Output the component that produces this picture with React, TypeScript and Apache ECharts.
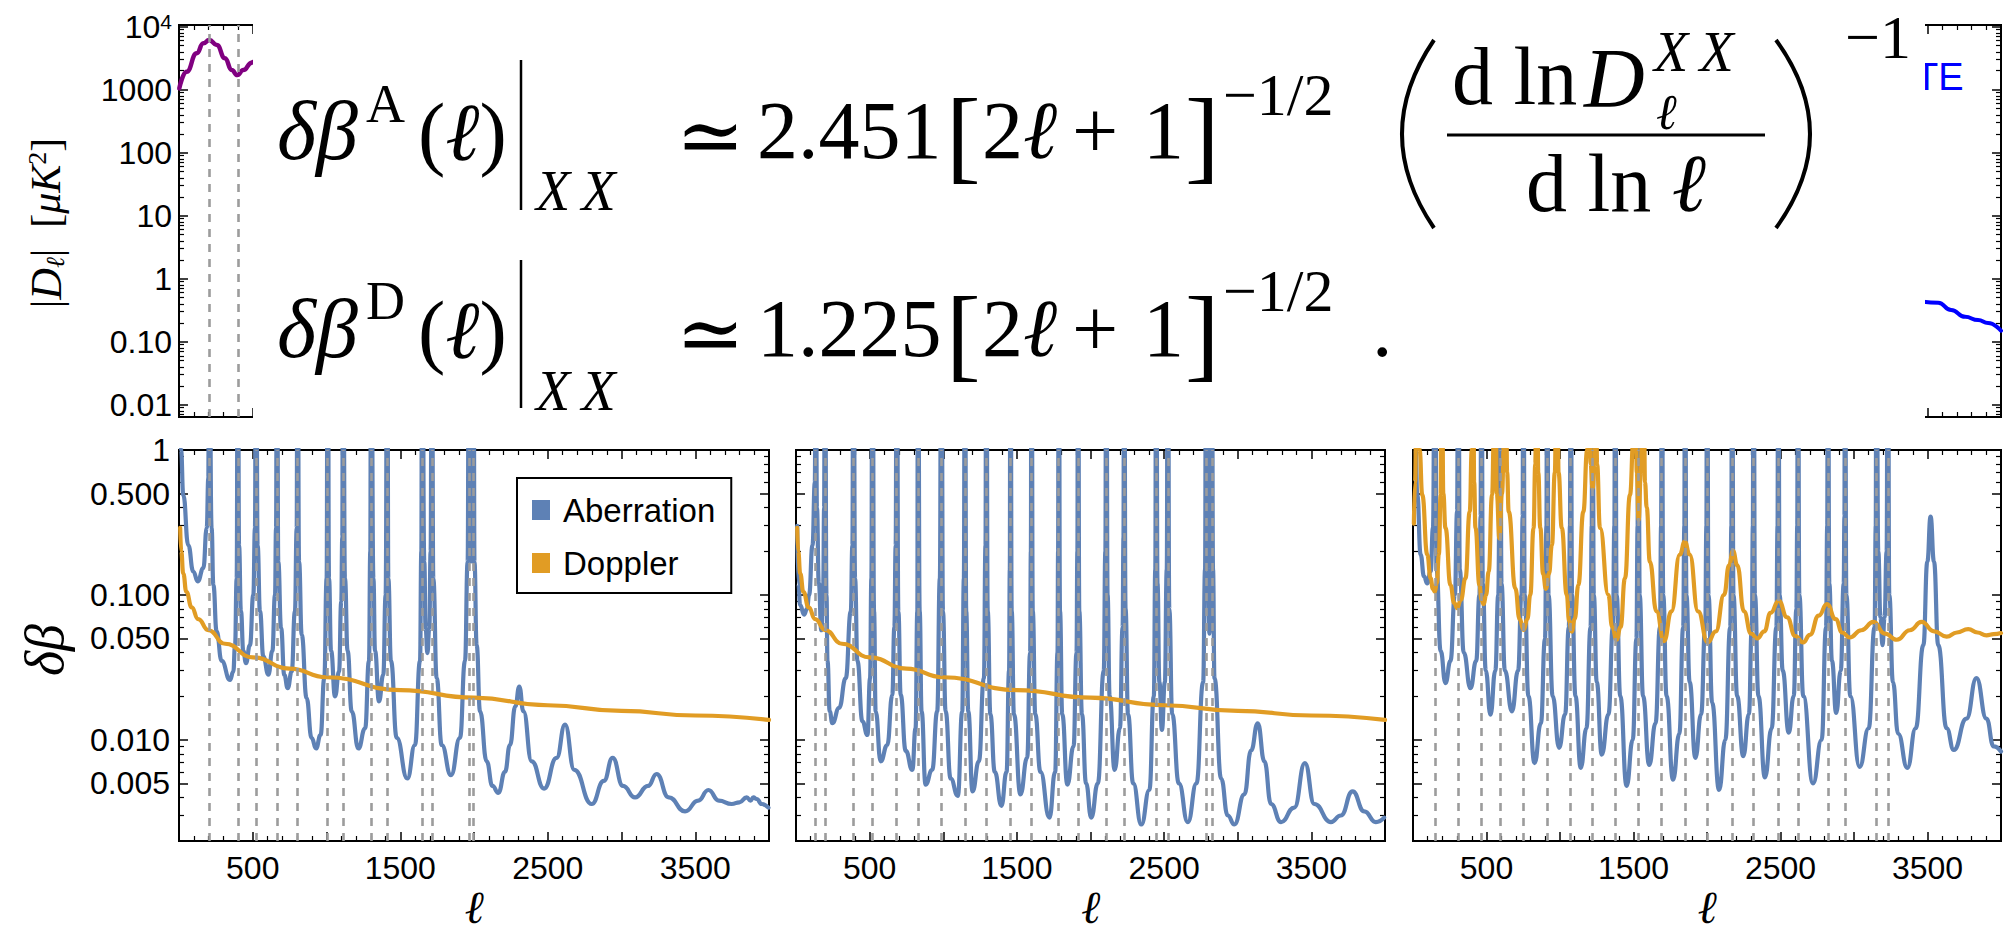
import React, { useEffect, useRef } from "react";
import * as echarts from "echarts";

// ---------------- data ----------------
type Pt = [number, number];

// top-left: |D_l^TT| in muK^2 (visible part)
const ttSpectrum: Pt[] = [[2, 1050], [52, 1930], [120, 3790], [165, 5450], [205, 6150], [256, 5130], [312, 3150], [357, 2050], [395, 1710], [436, 2050], [493, 2690], [500, 2750]];
// top-right: |D_l^TE| (visible part)
const teSpectrum: Pt[] = [[3471, 0.431], [3573, 0.416], [3661, 0.318], [3756, 0.249], [3844, 0.221], [3912, 0.198], [4000, 0.15]];

// dashed guide lines (extrema of the spectra)
const ttExtrema = [203, 399, 522, 664, 803, 1008, 1112, 1302, 1412, 1648, 1714, 1966, 1997];
const eeExtrema = [134, 196, 390, 519, 684, 828, 987, 1147, 1292, 1456, 1599, 1784, 1915, 2107, 2228, 2446, 2525, 2785, 2824];
const teExtrema = [150, 308, 465, 592, 750, 912, 1072, 1220, 1375, 1532, 1692, 1850, 2000, 2170, 2316, 2484, 2618, 2822, 2938, 3152, 3230];

const ttAberration: Pt[] = [
  [8, 3], [14, 1.0], [29, 0.49], [63, 0.22], [97, 0.145], [127, 0.124], [165, 0.153], [188, 0.29], [199, 0.64], [203, 40],
  [221, 0.29], [233, 0.117], [255, 0.056], [289, 0.035], [346, 0.0259], [368, 0.0295], [380, 0.045], [391, 0.13], [399, 40],
  [407, 0.22], [420, 0.077], [436, 0.041], [454, 0.0338], [481, 0.045], [504, 0.1], [515, 0.29], [522, 40],
  [533, 0.22], [549, 0.077], [572, 0.0375], [606, 0.0281], [633, 0.041], [651, 0.1], [658, 0.29], [664, 40],
  [673, 0.17], [692, 0.059], [714, 0.028], [737, 0.0227], [764, 0.0295], [786, 0.077], [798, 0.29], [803, 40],
  [814, 0.17], [832, 0.053], [865, 0.0194], [899, 0.0103], [929, 0.0087], [960, 0.0108], [985, 0.0266], [1001, 0.13], [1008, 40],
  [1017, 0.13], [1031, 0.041], [1058, 0.0199], [1085, 0.0295], [1100, 0.09], [1107, 0.25], [1112, 40],
  [1125, 0.13], [1143, 0.041], [1171, 0.0157], [1216, 0.0087], [1262, 0.012], [1288, 0.035], [1297, 0.2], [1302, 40],
  [1318, 0.13], [1329, 0.041], [1356, 0.0184], [1385, 0.0281], [1401, 0.1], [1412, 40],
  [1419, 0.13], [1437, 0.035], [1476, 0.0103], [1548, 0.0054], [1600, 0.0092], [1634, 0.035], [1643, 0.2], [1648, 40],
  [1663, 0.17], [1672, 0.059], [1684, 0.0396], [1697, 0.059], [1706, 0.2], [1714, 40],
  [1724, 0.13], [1747, 0.0266], [1781, 0.0092], [1844, 0.0057], [1905, 0.0103], [1939, 0.035], [1957, 0.17], [1966, 40],
  [1974, 0.3], [1981, 0.17], [1988, 0.3], [1997, 40],
  [2003, 0.17], [2018, 0.045], [2041, 0.0157], [2086, 0.0071], [2125, 0.0048], [2165, 0.0043], [2210, 0.006], [2244, 0.0092],
  [2280, 0.017], [2307, 0.0233], [2335, 0.0157], [2391, 0.0071], [2475, 0.0046], [2560, 0.0075], [2617, 0.0127], [2680, 0.0062],
  [2798, 0.0036], [2880, 0.0052], [2940, 0.0075], [3010, 0.0048], [3092, 0.004], [3180, 0.0048], [3238, 0.0058], [3320, 0.004],
  [3431, 0.0032], [3520, 0.0038], [3589, 0.0045], [3660, 0.0038], [3747, 0.0036], [3800, 0.0037], [3849, 0.004], [3875, 0.0038],
  [3894, 0.004], [3917, 0.0039], [3950, 0.0036], [3996, 0.0034],
];

// Doppler curve for TT and EE (identical in both panels)
const dopplerTTEE: Pt[] = [
  [8, 0.29], [15, 0.2], [29, 0.14], [50, 0.105], [86, 0.082], [130, 0.068], [199, 0.057], [312, 0.046], [500, 0.037],
  [750, 0.031], [1000, 0.027], [1500, 0.022], [2000, 0.0195], [2500, 0.0173], [3000, 0.0158], [3500, 0.0147], [4000, 0.0137],
];

const eeAberration: Pt[] = [
  [8, 0.3], [16, 0.12], [28, 0.085], [55, 0.073], [75, 0.08], [89, 0.1], [112, 0.22], [128, 0.6], [134, 40],
  [142, 0.4], [155, 0.12], [172, 0.057], [185, 0.12], [191, 0.4], [196, 40],
  [207, 0.1], [214, 0.035], [229, 0.0157], [247, 0.013], [293, 0.0166], [338, 0.0266], [372, 0.077], [383, 0.22], [390, 40],
  [401, 0.13], [417, 0.035], [451, 0.0134], [485, 0.0108], [503, 0.0266], [512, 0.13], [519, 40],
  [530, 0.077], [541, 0.0157], [575, 0.0071], [620, 0.0092], [654, 0.0204], [668, 0.06], [677, 0.22], [684, 40],
  [695, 0.077], [711, 0.0204], [745, 0.0084], [790, 0.0062], [812, 0.012], [824, 0.077], [828, 40],
  [840, 0.077], [853, 0.0157], [880, 0.0049], [925, 0.0062], [959, 0.0157], [977, 0.13], [987, 40],
  [998, 0.077], [1016, 0.0157], [1050, 0.0054], [1099, 0.0041], [1129, 0.0157], [1140, 0.13], [1147, 40],
  [1156, 0.077], [1170, 0.0157], [1199, 0.0044], [1242, 0.0071], [1276, 0.0266], [1287, 0.22], [1292, 40],
  [1302, 0.077], [1320, 0.015], [1350, 0.006], [1395, 0.0035], [1430, 0.006], [1447, 0.03], [1452, 0.15], [1456, 40],
  [1465, 0.077], [1480, 0.015], [1524, 0.0042], [1570, 0.0075], [1590, 0.04], [1595, 0.2], [1599, 40],
  [1608, 0.077], [1625, 0.015], [1660, 0.006], [1721, 0.0029], [1760, 0.006], [1776, 0.04], [1780, 0.2], [1784, 40],
  [1793, 0.077], [1808, 0.015], [1843, 0.0049], [1885, 0.009], [1905, 0.04], [1911, 0.2], [1915, 40],
  [1924, 0.077], [1942, 0.015], [1970, 0.005], [2005, 0.0029], [2050, 0.005], [2090, 0.03], [2101, 0.2], [2107, 40],
  [2116, 0.1], [2130, 0.02], [2164, 0.0062], [2200, 0.012], [2218, 0.06], [2224, 0.25], [2228, 40],
  [2238, 0.08], [2255, 0.015], [2290, 0.005], [2345, 0.0026], [2400, 0.0045], [2430, 0.02], [2440, 0.15], [2446, 40],
  [2455, 0.12], [2468, 0.025], [2485, 0.0117], [2505, 0.025], [2518, 0.15], [2525, 40],
  [2535, 0.08], [2555, 0.015], [2600, 0.005], [2661, 0.0027], [2720, 0.005], [2765, 0.025], [2778, 0.15], [2785, 40],
  [2795, 0.15], [2808, 0.054], [2815, 0.15], [2824, 40],
  [2832, 0.15], [2842, 0.0266], [2887, 0.0054], [2932, 0.003], [2977, 0.0026], [3045, 0.0042], [3090, 0.0084], [3136, 0.013],
  [3181, 0.0071], [3226, 0.0036], [3294, 0.0027], [3384, 0.0034], [3456, 0.0069], [3520, 0.0036], [3633, 0.0027], [3700, 0.003],
  [3780, 0.0044], [3859, 0.0032], [3938, 0.0027], [3994, 0.0029],
];

const teAberration: Pt[] = [
  [8, 3], [18, 1.0], [29, 0.49], [52, 0.19], [75, 0.134], [97, 0.12], [120, 0.145], [136, 0.29], [150, 40],
  [160, 0.15], [188, 0.041], [221, 0.0246], [255, 0.035], [285, 0.1], [300, 0.38], [308, 40],
  [318, 0.15], [345, 0.04], [391, 0.0227], [430, 0.035], [452, 0.1], [460, 0.35], [465, 40],
  [475, 0.12], [495, 0.03], [527, 0.0149], [560, 0.03], [580, 0.1], [588, 0.35], [592, 40],
  [602, 0.12], [625, 0.03], [673, 0.0157], [715, 0.03], [738, 0.1], [746, 0.35], [750, 40],
  [760, 0.1], [785, 0.02], [827, 0.0069], [870, 0.013], [898, 0.05], [908, 0.3], [912, 40],
  [922, 0.1], [950, 0.02], [994, 0.0088], [1035, 0.015], [1060, 0.06], [1068, 0.3], [1072, 40],
  [1082, 0.1], [1105, 0.02], [1141, 0.0064], [1180, 0.012], [1208, 0.06], [1216, 0.3], [1220, 40],
  [1230, 0.1], [1250, 0.025], [1284, 0.0079], [1330, 0.015], [1360, 0.06], [1370, 0.3], [1375, 40],
  [1385, 0.1], [1410, 0.02], [1453, 0.0048], [1495, 0.01], [1520, 0.05], [1528, 0.3], [1532, 40],
  [1542, 0.1], [1565, 0.02], [1607, 0.0067], [1650, 0.013], [1680, 0.06], [1688, 0.3], [1692, 40],
  [1702, 0.1], [1725, 0.02], [1769, 0.0053], [1812, 0.011], [1838, 0.06], [1846, 0.3], [1850, 40],
  [1860, 0.1], [1882, 0.025], [1921, 0.0075], [1960, 0.015], [1988, 0.06], [1996, 0.3], [2000, 40],
  [2010, 0.1], [2035, 0.018], [2082, 0.0045], [2125, 0.01], [2158, 0.06], [2166, 0.3], [2170, 40],
  [2180, 0.1], [2205, 0.02], [2247, 0.0077], [2285, 0.015], [2305, 0.06], [2312, 0.3], [2316, 40],
  [2326, 0.1], [2350, 0.02], [2394, 0.0055], [2440, 0.012], [2472, 0.06], [2480, 0.3], [2484, 40],
  [2494, 0.1], [2515, 0.03], [2556, 0.0112], [2590, 0.02], [2608, 0.08], [2614, 0.3], [2618, 40],
  [2628, 0.1], [2655, 0.02], [2721, 0.005], [2780, 0.01], [2810, 0.06], [2818, 0.3], [2822, 40],
  [2832, 0.12], [2850, 0.035], [2879, 0.0153], [2910, 0.03], [2930, 0.12], [2935, 0.35], [2938, 40],
  [2948, 0.1], [2975, 0.02], [3038, 0.0065], [3100, 0.012], [3140, 0.06], [3148, 0.3], [3152, 40],
  [3165, 0.2], [3180, 0.07], [3194, 0.045], [3208, 0.07], [3222, 0.2], [3230, 40],
  [3240, 0.1], [3265, 0.025], [3300, 0.011], [3363, 0.0064], [3420, 0.012], [3472, 0.045], [3499, 0.17], [3521, 0.347],
  [3544, 0.17], [3573, 0.045], [3630, 0.012], [3679, 0.0085], [3765, 0.014], [3833, 0.0266], [3901, 0.014], [3950, 0.009], [4000, 0.0083],
];

const teDoppler: Pt[] = [
  [6, 0.31], [14, 0.6], [22, 1.5], [32, 40], [45, 1.0], [63, 0.49], [97, 0.19], [120, 0.13], [135, 0.11], [149, 0.105], [162, 0.12], [176, 0.19], [188, 0.49], [195, 40],
  [206, 0.5], [221, 0.29], [255, 0.117], [280, 0.088], [300, 0.081], [325, 0.092], [357, 0.13], [386, 0.376], [400, 1.0], [408, 40],
  [416, 0.6], [425, 0.29], [452, 0.117], [467, 0.092], [481, 0.0863], [497, 0.1], [515, 0.145], [538, 0.49], [550, 1.2], [558, 40],
  [570, 0.5], [588, 0.245], [605, 0.5], [620, 1.2], [630, 40],
  [640, 0.7], [651, 0.376], [696, 0.111], [725, 0.068], [753, 0.0573], [778, 0.068], [798, 0.1], [820, 0.288], [832, 0.8], [842, 40],
  [852, 0.7], [866, 0.29], [885, 0.14], [904, 0.11], [925, 0.14], [945, 0.22], [965, 0.7], [980, 40],
  [990, 0.7], [1012, 0.29], [1046, 0.1], [1062, 0.066], [1080, 0.0558], [1100, 0.068], [1125, 0.117], [1159, 0.376], [1185, 1.0], [1198, 40],
  [1208, 0.8], [1222, 0.54], [1235, 0.8], [1243, 40],
  [1252, 0.8], [1272, 0.29], [1329, 0.1], [1355, 0.06], [1385, 0.049], [1412, 0.06], [1442, 0.13], [1476, 0.49], [1500, 1.2], [1512, 40],
  [1522, 0.7], [1535, 0.33], [1550, 0.7], [1567, 40],
  [1578, 0.6], [1590, 0.4], [1611, 0.17], [1656, 0.077], [1708, 0.048], [1758, 0.077], [1815, 0.19], [1849, 0.233], [1882, 0.19], [1939, 0.077], [2005, 0.047],
  [2060, 0.056], [2116, 0.1], [2150, 0.16], [2177, 0.201], [2206, 0.16], [2251, 0.077], [2300, 0.054], [2342, 0.05], [2390, 0.056],
  [2432, 0.075], [2488, 0.091], [2545, 0.07], [2600, 0.052], [2654, 0.047], [2700, 0.053], [2760, 0.072], [2816, 0.0863], [2875, 0.068],
  [2920, 0.055], [2970, 0.0508], [3050, 0.057], [3133, 0.065], [3210, 0.054], [3291, 0.049], [3380, 0.057], [3460, 0.065], [3545, 0.056],
  [3630, 0.0515], [3700, 0.055], [3777, 0.058], [3840, 0.055], [3901, 0.0525], [3950, 0.0535], [4000, 0.0545],
];

// ---------------- ticks ----------------
const ellLabelValues = [500, 1500, 2500, 3500];
const dbTickValues = [0.005, 0.01, 0.05, 0.1, 0.5, 1];
const dbTickLabels = ["0.005", "0.010", "0.050", "0.100", "0.500", "1"];
const dbMinorTicks = [0.003, 0.004, 0.006, 0.007, 0.008, 0.009, 0.02, 0.03, 0.04, 0.06, 0.07, 0.08, 0.09, 0.2, 0.3, 0.4, 0.6, 0.7, 0.8, 0.9];
const dlTickValues = [0.01, 0.1, 1, 10, 100, 1000, 10000];
const dlTickLabels = ["0.01", "0.10", "1", "10", "100", "1000", "10{sup|4}"];
const dlMinorTicks = [
  0.007, 0.008, 0.009, 0.02, 0.03, 0.04, 0.05, 0.06, 0.07, 0.08, 0.09, 0.2, 0.3, 0.4, 0.5, 0.6, 0.7, 0.8, 0.9,
  2, 3, 4, 5, 6, 7, 8, 9, 20, 30, 40, 50, 60, 70, 80, 90, 200, 300, 400, 500, 600, 700, 800, 900,
  2000, 3000, 4000, 5000, 6000, 7000, 8000, 9000,
];

// ---------------- styling ----------------
const SANS = "Liberation Sans, Arial, Helvetica, sans-serif";
const SERIF = "Liberation Serif, DejaVu Serif, serif";
const BLUE = "#5E81B5";
const ORANGE = "#E19C24";
const LW = 4.2;

const grids = [
  { left: 179, top: 25, width: 590, height: 392 },
  { left: 1413, top: 25, width: 588, height: 392 },
  { left: 179, top: 450, width: 590, height: 391 },
  { left: 796, top: 450, width: 589, height: 391 },
  { left: 1413, top: 450, width: 588, height: 391 },
];

const fmtFrom = (vals: number[], labels: string[]) => (v: number) => {
  const i = vals.findIndex((t) => Math.abs(t - v) <= t * 1e-6);
  return i >= 0 ? labels[i] : "";
};

function makeXAxes(gi: number, labeled: boolean) {
  const base: any = {
    gridIndex: gi, type: "value", min: 0, max: 4000, interval: 500,
    axisLine: { show: false, onZero: false },
    splitLine: { show: false }, minorSplitLine: { show: false },
    axisTick: { show: true, inside: true, length: 9, lineStyle: { color: "#000", width: 1.5 } },
    minorTick: { show: true, splitNumber: 5, length: 5, lineStyle: { color: "#000", width: 1.2 } },
  };
  return [
    {
      ...base, position: "bottom",
      axisLabel: { show: labeled, customValues: ellLabelValues, formatter: (v: number) => String(v), fontSize: 32, fontFamily: SANS, color: "#000", margin: 11 },
      name: labeled ? "ℓ" : "", nameLocation: "middle", nameGap: 46,
      nameTextStyle: { fontSize: 46, lineHeight: 40, fontFamily: SERIF, fontStyle: "italic", color: "#000" },
    },
    { ...base, position: "top", axisLabel: { show: false } },
  ];
}

function makeYAxes(gi: number, min: number, max: number, major: number[], minor: number[], labeled: boolean, fmt: (v: number) => string, margin: number) {
  const base: any = {
    gridIndex: gi, type: "log", logBase: 10, min, max,
    axisLine: { show: false, onZero: false }, splitLine: { show: false }, minorTick: { show: false },
  };
  const majorTick = { show: true, inside: true, length: 9, customValues: major, lineStyle: { color: "#000", width: 1.5 } };
  const minorTick = { show: true, inside: true, length: 5, customValues: minor, lineStyle: { color: "#000", width: 1.2 } };
  return [
    {
      ...base, position: "left", axisTick: majorTick,
      axisLabel: {
        show: labeled, customValues: major, formatter: fmt, fontSize: 32, fontFamily: SANS, color: "#000", margin,
        rich: { sup: { fontSize: 21, fontFamily: SANS, color: "#000", verticalAlign: "top" } },
      },
    },
    { ...base, position: "left", axisTick: minorTick, axisLabel: { show: false } },
    { ...base, position: "right", axisTick: majorTick, axisLabel: { show: false } },
    { ...base, position: "right", axisTick: minorTick, axisLabel: { show: false } },
  ];
}

const curve = (name: string, data: Pt[], gi: number, color: string, width: number) => ({
  type: "line", name, data, xAxisIndex: 2 * gi, yAxisIndex: 4 * gi,
  showSymbol: false, symbol: "none", smooth: 0.5, smoothMonotone: "x", clip: true, silent: true, z: 2,
  color, itemStyle: { color }, lineStyle: { color, width, cap: "round", join: "round" },
});

const dashes = (vals: number[], gi: number) => ({
  type: "line", name: "guides" + gi, data: [], xAxisIndex: 2 * gi, yAxisIndex: 4 * gi, z: 1, silent: true,
  markLine: {
    silent: true, symbol: ["none", "none"], animation: false, label: { show: false },
    lineStyle: { type: [8, 7], color: "#9c9c9c", width: 2.6 },
    emphasis: { disabled: true },
    data: vals.map((v) => ({ xAxis: v })),
  },
});

const RICH: any = {
  i: { fontStyle: "italic", fontFamily: SERIF, fontSize: 82, fill: "#000", color: "#000" },
};

const eq = (text: string, x: number, y: number, size: number, italic = false) => ({
  type: "text", x, y, z: 60, silent: true,
  style: { text, fontSize: size, fontFamily: SERIF, fontStyle: italic ? "italic" : "normal", fill: "#000", align: "left", verticalAlign: "middle", rich: RICH },
});
const seg = (x1: number, y1: number, x2: number, y2: number, w: number) => ({
  type: "line", z: 60, silent: true, shape: { x1, y1, x2, y2 }, style: { stroke: "#000", lineWidth: w },
});
const paren = (x1: number, cpx: number) => ({
  type: "bezierCurve", z: 60, silent: true,
  shape: { x1, y1: 40, x2: x1, y2: 228, cpx1: cpx, cpy1: 134 },
  style: { stroke: "#000", lineWidth: 4, fill: "none" },
});
// bracketed [2l + 1] group, anchored piece by piece
const bracketGroup = (y: number) => [
  eq("[", 946, y + 4, 104),
  eq("2{i|ℓ}", 982, y, 82),
  eq("+", 1072, y, 82),
  eq("1", 1143, y, 82),
  eq("]", 1185, y + 4, 104),
];

function buildOption(): any {
  const xAxis = [
    ...makeXAxes(0, false), ...makeXAxes(1, false),
    ...makeXAxes(2, true), ...makeXAxes(3, true), ...makeXAxes(4, true),
  ];
  const dlFmt = fmtFrom(dlTickValues, dlTickLabels);
  const dbFmt = fmtFrom(dbTickValues, dbTickLabels);
  const yAxis = [
    ...makeYAxes(0, 0.0064, 10640, dlTickValues, dlMinorTicks, true, dlFmt, 7),
    ...makeYAxes(1, 0.0064, 10640, dlTickValues, dlMinorTicks, false, dlFmt, 7),
    ...makeYAxes(2, 0.002, 1, dbTickValues, dbMinorTicks, true, dbFmt, 9),
    ...makeYAxes(3, 0.002, 1, dbTickValues, dbMinorTicks, false, dbFmt, 9),
    ...makeYAxes(4, 0.002, 1, dbTickValues, dbMinorTicks, false, dbFmt, 9),
  ];
  const series = [
    dashes(ttExtrema, 0), curve("TT", ttSpectrum, 0, "#800080", 4.5),
    dashes(teExtrema, 1), curve("TE", teSpectrum, 1, "#0000FF", 4),
    dashes(ttExtrema, 2), curve("Aberration", ttAberration, 2, BLUE, LW), curve("Doppler", dopplerTTEE, 2, ORANGE, LW),
    dashes(eeExtrema, 3), curve("Aberration", eeAberration, 3, BLUE, LW), curve("Doppler", dopplerTTEE, 3, ORANGE, LW),
    dashes(teExtrema, 4), curve("Aberration", teAberration, 4, BLUE, LW), curve("Doppler", teDoppler, 4, ORANGE, LW),
  ];

  const elements: any[] = [
    // "TE" label of the top-right panel (partly hidden by the equation box)
    { type: "text", x: 1915, y: 77, z: 40, silent: true, style: { text: "TE", fontSize: 38, fontFamily: SANS, fill: "#0000FF", align: "left", verticalAlign: "middle" } },
    // equation box
    { type: "rect", z: 50, silent: true, shape: { x: 253, y: 0, width: 1672, height: 432 }, style: { fill: "#ffffff" } },
    // axis titles
    {
      type: "text", x: 46, y: 223, rotation: Math.PI / 2, z: 60, silent: true,
      style: {
        text: "|{d|D}{sub|ℓ}|  [{it|μK}{sup|2}]", fontSize: 42, fontFamily: SERIF, fill: "#000", align: "center", verticalAlign: "middle",
        rich: {
          d: { fontSize: 44, fontStyle: "italic", fontFamily: SERIF, fill: "#000" },
          sub: { fontSize: 26, fontStyle: "italic", fontFamily: SERIF, fill: "#000", verticalAlign: "bottom" },
          it: { fontSize: 42, fontStyle: "italic", fontFamily: SERIF, fill: "#000" },
          sup: { fontSize: 26, fontFamily: SERIF, fill: "#000", verticalAlign: "top" },
        },
      },
    },
    { type: "text", x: 45, y: 650, rotation: Math.PI / 2, z: 60, silent: true, style: { text: "δβ", fontSize: 54, fontStyle: "italic", fontFamily: SERIF, fill: "#000", align: "center", verticalAlign: "middle" } },
    // line 1
    eq("δβ", 277, 130, 84, true),
    eq("A", 366, 104, 54),
    eq("({i|ℓ})", 418, 132, 82),
    seg(521, 60, 521, 210, 2.5),
    eq("X\u2009X", 536, 191, 56, true),
    eq("≃", 676, 136, 82),
    eq("2.451", 757, 130, 82),
    ...bracketGroup(130),
    eq("−1/2", 1223, 95, 60),
    paren(1434, 1370),
    eq("d ln", 1452, 76, 82),
    eq("D", 1584, 78, 84, true),
    eq("X\u2009X", 1654, 52, 56, true),
    eq("ℓ", 1656, 112, 50, true),
    seg(1447, 135, 1765, 135, 3),
    eq("d ln {i|ℓ}", 1526, 183, 82),
    paren(1776, 1844),
    eq("−1", 1845, 37, 62),
    // line 2
    eq("δβ", 277, 328, 84, true),
    eq("D", 366, 301, 54),
    eq("({i|ℓ})", 418, 330, 82),
    seg(521, 260, 521, 408, 2.5),
    eq("X\u2009X", 536, 391, 56, true),
    eq("≃", 676, 334, 82),
    eq("1.225", 757, 328, 82),
    ...bracketGroup(328),
    eq("−1/2", 1223, 291, 60),
    eq(".", 1372, 328, 82),
  ];

  return {
    animation: false,
    backgroundColor: "#ffffff",
    grid: grids.map((g) => ({ ...g, show: true, borderColor: "#000", borderWidth: 2, backgroundColor: "rgba(0,0,0,0)", containLabel: false })),
    xAxis,
    yAxis,
    series,
    legend: {
      data: ["Aberration", "Doppler"],
      orient: "vertical",
      left: 517,
      top: 478,
      selectedMode: false,
      icon: "rect",
      itemWidth: 18,
      itemHeight: 20,
      itemGap: 17,
      padding: [14, 16, 12, 15],
      borderColor: "#000",
      borderWidth: 2,
      backgroundColor: "#fff",
      textStyle: { fontSize: 33, fontFamily: SANS, color: "#000", lineHeight: 36, padding: [0, 0, 0, 8] },
    },
    graphic: { elements },
  };
}

export default function App() {
  const ref = useRef<HTMLDivElement>(null);
  useEffect(() => {
    if (!ref.current) return;
    const chart = echarts.init(ref.current, undefined, { renderer: "svg" });
    chart.setOption(buildOption());
    return () => chart.dispose();
  }, []);
  return <div ref={ref} style={{ position: "fixed", left: 0, top: 0, width: 2012, height: 939, background: "#fff" }} />;
}
